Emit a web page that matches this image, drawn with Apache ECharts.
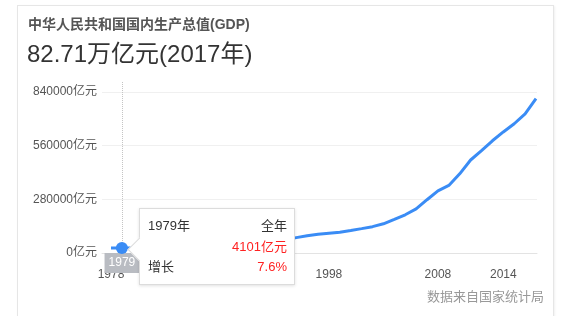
<!DOCTYPE html>
<html>
<head>
<meta charset="utf-8">
<script src="https://cdn.jsdelivr.net/npm/echarts@6/dist/echarts.min.js"></script>
<style>
  html, body { margin: 0; padding: 0; background: #fff; }
  #card { position: absolute; left: 17px; top: 5px; width: 535px; height: 330px;
          border: 1px solid #e6e6e6; box-shadow: 1px 1px 2px rgba(0,0,0,0.06); }
  #chart { position: absolute; left: 0; top: 0; width: 567px; height: 316px; }
</style>
</head>
<body>
<div id="card"></div>
<div id="chart"></div>
<script>
// China GDP, 亿元, 1978–2017
const years = ['1978','1979','1980','1981','1982','1983','1984','1985','1986','1987',
  '1988','1989','1990','1991','1992','1993','1994','1995','1996','1997',
  '1998','1999','2000','2001','2002','2003','2004','2005','2006','2007',
  '2008','2009','2010','2011','2012','2013','2014','2015','2016','2017'];
const gdp = [3679, 4101, 4588, 4936, 5373, 6021, 7279, 9099, 10376, 12175,
  15180, 17180, 18873, 22006, 27195, 35673, 48638, 61340, 71814, 79715,
  85196, 90564, 100280, 110863, 121717, 137422, 161840, 187319, 219439, 270232,
  319516, 349081, 413030, 489301, 540367, 595244, 643974, 689052, 743586, 827122];
const growth = [11.7, 7.6, 7.8, 5.1, 9.0, 10.8, 15.2, 13.4, 8.9, 11.7,
  11.2, 4.2, 3.9, 9.3, 14.2, 13.9, 13.0, 11.0, 9.9, 9.2,
  7.8, 7.7, 8.5, 8.3, 9.1, 10.0, 10.1, 11.4, 12.7, 14.2,
  9.7, 9.4, 10.6, 9.6, 7.9, 7.8, 7.3, 6.9, 6.7, 6.9];
const xTickYears = ['1978', '1988', '1998', '2008', '2014'];
const yTicks = [0, 280000, 560000, 840000];

// year whose details are shown in the tooltip
const activeIndex = years.indexOf('1979');

const FONT = '"Liberation Sans", Arial, "Noto Sans CJK SC", sans-serif';
const RED = '#f22';
const BLUE = '#3a8cf5';

const chart = echarts.init(document.getElementById('chart'), null, { renderer: 'canvas' });

function tipHtml(i) {
  const row = 'position:absolute;line-height:16px;white-space:nowrap;';
  return '<div style="position:relative;width:154px;height:75px;font-size:13px;color:#333;font-family:' + FONT.replace(/"/g, "'") + ';">' +
    '<div style="position:absolute;left:-9px;top:32px;width:16px;height:16px;background:#fff;' +
      'border-left:1px solid #dcdcdc;border-bottom:1px solid #dcdcdc;transform:rotate(45deg);"></div>' +
    '<div style="' + row + 'left:8px;top:9px;">' + years[i] + '年</div>' +
    '<div style="' + row + 'right:7px;top:9px;">全年</div>' +
    '<div style="' + row + 'right:7px;top:30px;color:' + RED + ';">' + gdp[i] + '亿元</div>' +
    '<div style="' + row + 'left:8px;top:50px;">增长</div>' +
    '<div style="' + row + 'right:7px;top:50px;color:' + RED + ';">' + growth[i].toFixed(1) + '%</div>' +
  '</div>';
}

chart.setOption({
  animation: false,
  textStyle: { fontFamily: FONT },
  title: [
    { text: '中华人民共和国国内生产总值(GDP)', left: 28, top: 18, padding: 0,
      textStyle: { fontSize: 14, fontWeight: 'bold', color: '#555', fontFamily: FONT } },
    { text: '82.71万亿元(2017年)', left: 27, top: 43, padding: 0,
      textStyle: { fontSize: 24, fontWeight: 'normal', color: '#333', fontFamily: FONT } },
    { text: '数据来自国家统计局', right: 23, top: 291, padding: 0,
      textStyle: { fontSize: 13, fontWeight: 'normal', color: '#999', fontFamily: FONT } }
  ],
  grid: [
    // series grid
    { left: 111, right: 31, top: 82, bottom: 63 },
    // value gridlines
    { left: 102, right: 30, top: 92, bottom: 63 }
  ],
  xAxis: [
    {
      gridIndex: 0, type: 'category', data: years, boundaryGap: false,
      axisLine: { show: false }, axisTick: { show: false },
      axisLabel: {
        color: '#555', fontSize: 12, margin: 16,
        interval: function (idx, val) { return xTickYears.indexOf(val) >= 0; }
      },
      splitLine: { show: false }
    },
    {
      gridIndex: 1, type: 'value', min: 0, max: 1,
      axisPointer: { show: false },
      axisLine: { show: true, lineStyle: { color: '#e3e3e3', width: 1 } },
      axisTick: { show: false }, axisLabel: { show: false }, splitLine: { show: false }
    }
  ],
  yAxis: [
    {
      gridIndex: 0, type: 'value', min: -23500, max: 919300, show: false,
      axisPointer: { show: false },
      splitLine: { show: false }
    },
    {
      gridIndex: 1, type: 'value',
      min: yTicks[0], max: yTicks[yTicks.length - 1], interval: yTicks[1] - yTicks[0],
      axisPointer: { show: false },
      axisLine: { show: false }, axisTick: { show: false },
      axisLabel: { color: '#555', fontSize: 12, margin: 5, formatter: function (v) { return v + '亿元'; } },
      splitLine: { show: true, lineStyle: { color: '#f0f0f0', width: 1 } }
    }
  ],
  tooltip: {
    trigger: 'axis',
    triggerOn: 'none',
    alwaysShowContent: true,
    transitionDuration: 0,
    backgroundColor: '#fff',
    borderColor: '#dcdcdc',
    borderWidth: 1,
    padding: 0,
    extraCssText: 'border-radius:0;box-shadow:0 1px 3px rgba(0,0,0,0.12);',
    position: function () { return [139, 208]; },
    axisPointer: {
      type: 'line',
      z: 1,
      lineStyle: { color: '#c4c4c4', width: 1, type: 'dotted' },
      label: {
        show: true, margin: 0, padding: [4, 4, 4, 4], lineHeight: 12,
        backgroundColor: '#b9bcc2', color: '#fff', fontSize: 12, fontFamily: FONT,
        borderRadius: 0
      }
    },
    formatter: function (params) { return tipHtml(params[0].dataIndex); }
  },
  series: [{
    type: 'line',
    z: 5,
    xAxisIndex: 0, yAxisIndex: 0,
    data: gdp,
    symbol: 'circle',
    showSymbol: true,
    showAllSymbol: true,
    symbolSize: function (v, p) { return p.dataIndex === activeIndex ? 11 : 0; },
    lineStyle: { color: BLUE, width: 3 },
    itemStyle: { color: BLUE, borderWidth: 0 },
    emphasis: { disabled: true }
  }]
});

chart.dispatchAction({ type: 'showTip', seriesIndex: 0, dataIndex: activeIndex });
</script>
</body>
</html>
